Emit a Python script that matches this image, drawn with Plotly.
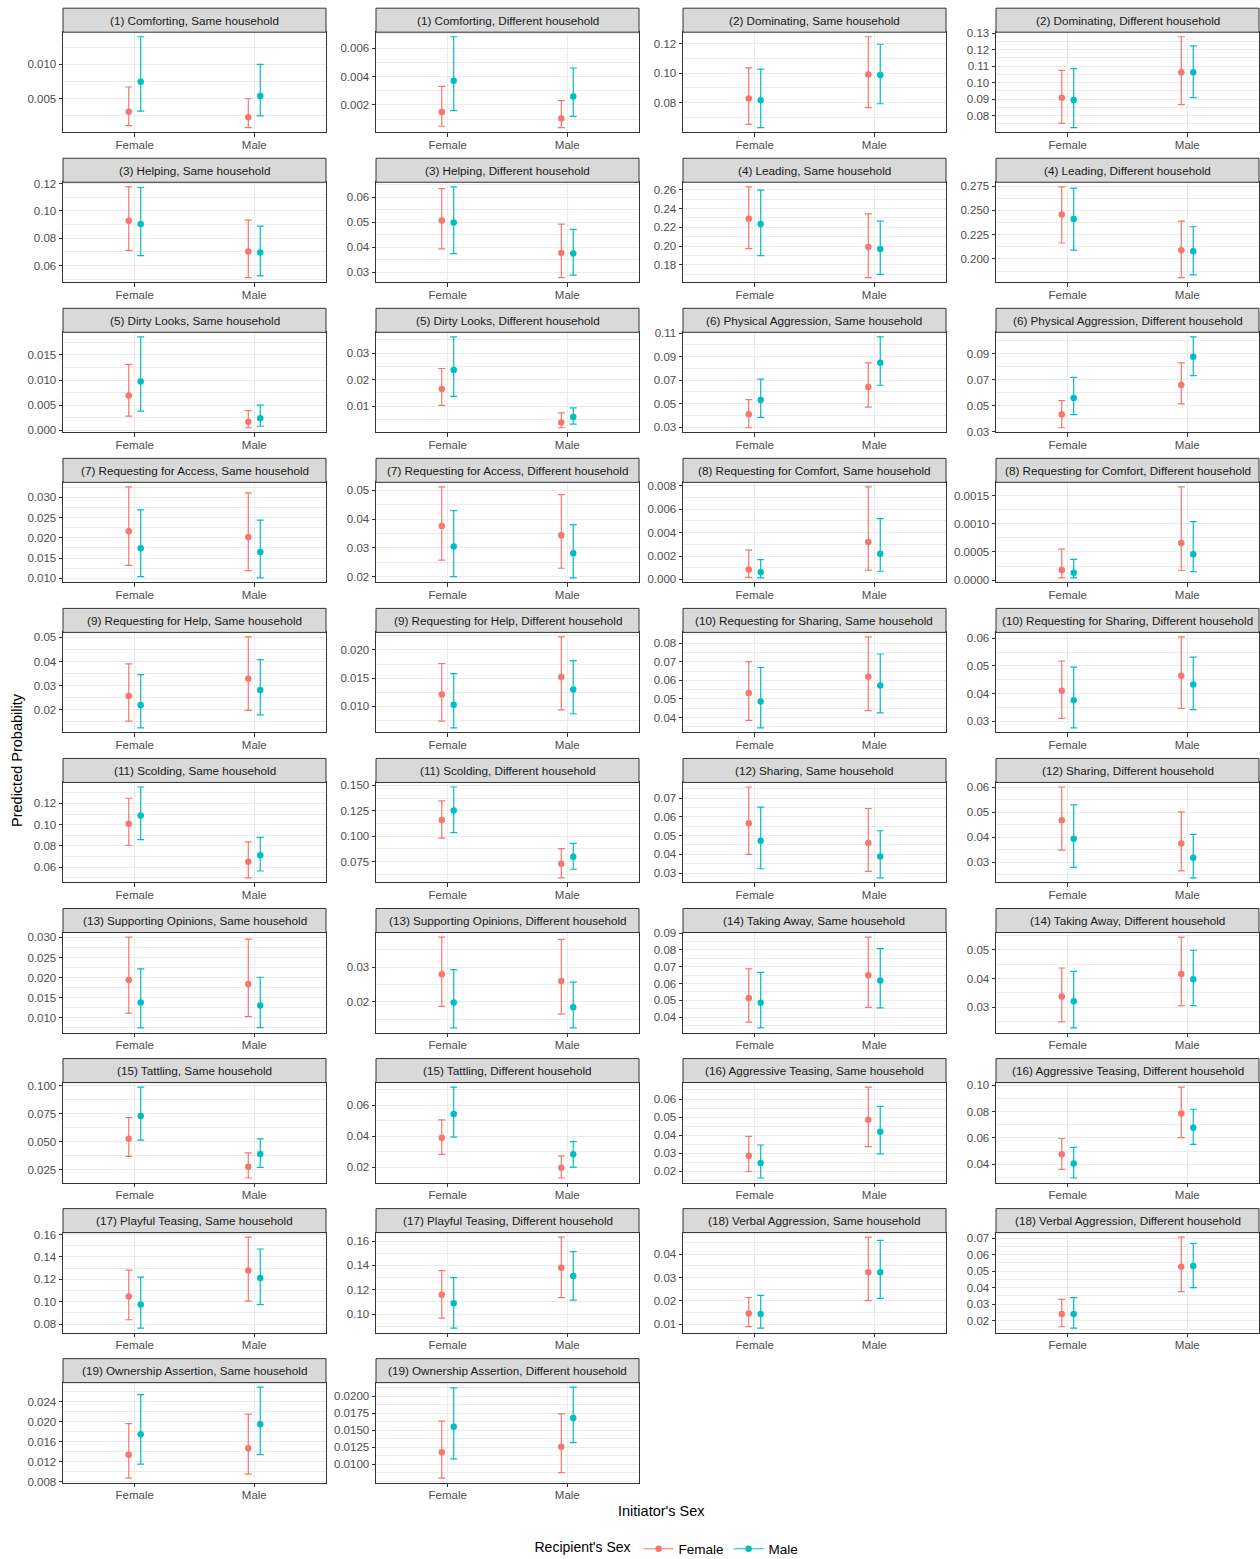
import plotly.graph_objects as go

# ---------------- data ----------------
behaviors = ["Comforting", "Dominating", "Helping", "Leading", "Dirty Looks",
             "Physical Aggression", "Requesting for Access", "Requesting for Comfort",
             "Requesting for Help", "Requesting for Sharing", "Scolding", "Sharing",
             "Supporting Opinions", "Taking Away", "Tattling", "Aggressive Teasing",
             "Playful Teasing", "Verbal Aggression", "Ownership Assertion"]
households = ["Same household", "Different household"]
initiator_sex = ["Female", "Male"]
recipient_sex = ["Female", "Male"]

# one pair per panel: [initiator Female, initiator Male]
est_rec_female = [[0.0031, 0.0023], [0.0015, 0.00105], [0.0829, 0.0991], [0.0908, 0.1062],
                  [0.0928, 0.0704], [0.0507, 0.0378], [0.2291, 0.1989], [0.2459, 0.2090],
                  [0.0069, 0.0017], [0.0165, 0.0039], [0.0410, 0.0641], [0.0431, 0.0659],
                  [0.0216, 0.0202], [0.0376, 0.0344], [0.00085, 0.0032], [0.00018, 0.00066],
                  [0.0256, 0.0328], [0.0121, 0.0152], [0.0532, 0.0620], [0.0410, 0.0465],
                  [0.1009, 0.0650], [0.1160, 0.0731], [0.0566, 0.0460], [0.0467, 0.0374],
                  [0.0194, 0.0184], [0.0280, 0.0260], [0.0515, 0.0649], [0.0338, 0.0416],
                  [0.0526, 0.0276], [0.0390, 0.0198], [0.0285, 0.0485], [0.0475, 0.0785],
                  [0.1047, 0.1278], [0.1160, 0.1381], [0.0145, 0.0322], [0.0241, 0.0527],
                  [0.0134, 0.0147], [0.0118, 0.0126]]
lo_rec_female = [[0.0011, 0.0008], [0.0005, 0.0004], [0.0653, 0.0767], [0.0752, 0.0866],
                 [0.0711, 0.0512], [0.0394, 0.0279], [0.1972, 0.1663], [0.2164, 0.1806],
                 [0.0028, 0.0005], [0.0103, 0.0019], [0.0294, 0.0469], [0.0329, 0.0513],
                 [0.0132, 0.0119], [0.0258, 0.0230], [0.00017, 0.0008], [0.00004, 0.00017],
                 [0.0152, 0.0197], [0.0074, 0.0094], [0.0384, 0.0437], [0.0310, 0.0346],
                 [0.0806, 0.0498], [0.0981, 0.0591], [0.0400, 0.0309], [0.0348, 0.0265],
                 [0.0112, 0.0103], [0.0187, 0.0165], [0.0371, 0.0458], [0.0249, 0.0306],
                 [0.0370, 0.0176], [0.0284, 0.0132], [0.0198, 0.0336], [0.0360, 0.0602],
                 [0.0839, 0.1006], [0.0968, 0.1135], [0.0089, 0.0201], [0.0164, 0.0376],
                 [0.0087, 0.0095], [0.0080, 0.0088]]
hi_rec_female = [[0.0067, 0.0050], [0.0033, 0.0023], [0.1036, 0.1247], [0.1074, 0.1278],
                 [0.1176, 0.0933], [0.0635, 0.0493], [0.2632, 0.2343], [0.2744, 0.2390],
                 [0.0131, 0.0039], [0.0242, 0.0075], [0.0534, 0.0847], [0.0538, 0.0829],
                 [0.0326, 0.0311], [0.0511, 0.0484], [0.0025, 0.0079], [0.00055, 0.00166],
                 [0.0390, 0.0502], [0.0176, 0.0223], [0.0702, 0.0835], [0.0518, 0.0605],
                 [0.1249, 0.0837], [0.1347, 0.0879], [0.0760, 0.0645], [0.0600, 0.0501],
                 [0.0301, 0.0296], [0.0387, 0.0380], [0.0688, 0.0877], [0.0437, 0.0545],
                 [0.0715, 0.0400], [0.0505, 0.0274], [0.0393, 0.0666], [0.0595, 0.0985],
                 [0.1282, 0.1577], [0.1357, 0.1632], [0.0214, 0.0473], [0.0330, 0.0706],
                 [0.0196, 0.0215], [0.01635, 0.0174]]
est_rec_male = [[0.00745, 0.0054], [0.0037, 0.0026], [0.0816, 0.0987], [0.0894, 0.1062],
                [0.0904, 0.0696], [0.0499, 0.0376], [0.2235, 0.1968], [0.2411, 0.2080],
                [0.0097, 0.0024], [0.0236, 0.0059], [0.0531, 0.0847], [0.0559, 0.0877],
                [0.0174, 0.0165], [0.0305, 0.0282], [0.00062, 0.0022], [0.00013, 0.00046],
                [0.0219, 0.0281], [0.0103, 0.0130], [0.0487, 0.0573], [0.0376, 0.0433],
                [0.1087, 0.0712], [0.1253, 0.0798], [0.0472, 0.0389], [0.0393, 0.0317],
                [0.0138, 0.0131], [0.0198, 0.0185], [0.0486, 0.0619], [0.0321, 0.0398],
                [0.0730, 0.0391], [0.0543, 0.0284], [0.0245, 0.0418], [0.0405, 0.0677],
                [0.0976, 0.1211], [0.1089, 0.1314], [0.0143, 0.0322], [0.0241, 0.0531],
                [0.0175, 0.0195], [0.0155, 0.0168]]
lo_rec_male = [[0.0032, 0.0025], [0.0016, 0.0012], [0.0631, 0.0793], [0.0726, 0.0908],
               [0.0673, 0.0526], [0.0375, 0.0289], [0.1898, 0.1698], [0.2091, 0.1836],
               [0.0038, 0.0008], [0.0137, 0.0033], [0.0382, 0.0656], [0.0431, 0.0731],
               [0.0104, 0.0101], [0.0201, 0.0197], [0.00014, 0.0007], [0.00004, 0.00015],
               [0.0124, 0.0178], [0.0062, 0.0087], [0.0344, 0.0425], [0.0276, 0.0342],
               [0.0859, 0.0563], [0.1036, 0.0676], [0.0323, 0.0274], [0.0279, 0.0237],
               [0.0075, 0.0076], [0.0125, 0.0125], [0.0336, 0.0456], [0.0228, 0.0306],
               [0.0515, 0.0271], [0.0394, 0.0202], [0.0162, 0.0296], [0.0295, 0.0550],
               [0.0765, 0.0974], [0.0886, 0.1116], [0.0083, 0.0210], [0.0156, 0.0400],
               [0.0115, 0.0134], [0.0108, 0.0132]]
hi_rec_male = [[0.0140, 0.0100], [0.0068, 0.0046], [0.1027, 0.1196], [0.1084, 0.1222],
               [0.1171, 0.0889], [0.0642, 0.0472], [0.2596, 0.2266], [0.2731, 0.2332],
               [0.0186, 0.0050], [0.0361, 0.0094], [0.0708, 0.1068], [0.0718, 0.1030],
               [0.0269, 0.0244], [0.0429, 0.0381], [0.0017, 0.0052], [0.00037, 0.00104],
               [0.0345, 0.0408], [0.0158, 0.0181], [0.0670, 0.0743], [0.0496, 0.0532],
               [0.1355, 0.0880], [0.1484, 0.0930], [0.0652, 0.0526], [0.0529, 0.0411],
               [0.0222, 0.0201], [0.0293, 0.0257], [0.0667, 0.0808], [0.0425, 0.0499],
               [0.0988, 0.0526], [0.0716, 0.0366], [0.0345, 0.0559], [0.0527, 0.0817],
               [0.1220, 0.1471], [0.1300, 0.1514], [0.0223, 0.0459], [0.0340, 0.0668],
               [0.0254, 0.0269], [0.0212, 0.0213]]

y_tick_labels = [
    ["0.005", "0.010"], ["0.002", "0.004", "0.006"], ["0.08", "0.10", "0.12"],
    ["0.08", "0.09", "0.10", "0.11", "0.12", "0.13"],
    ["0.06", "0.08", "0.10", "0.12"], ["0.03", "0.04", "0.05", "0.06"],
    ["0.18", "0.20", "0.22", "0.24", "0.26"], ["0.200", "0.225", "0.250", "0.275"],
    ["0.000", "0.005", "0.010", "0.015"], ["0.01", "0.02", "0.03"],
    ["0.03", "0.05", "0.07", "0.09", "0.11"], ["0.03", "0.05", "0.07", "0.09"],
    ["0.010", "0.015", "0.020", "0.025", "0.030"], ["0.02", "0.03", "0.04", "0.05"],
    ["0.000", "0.002", "0.004", "0.006", "0.008"], ["0.0000", "0.0005", "0.0010", "0.0015"],
    ["0.02", "0.03", "0.04", "0.05"], ["0.010", "0.015", "0.020"],
    ["0.04", "0.05", "0.06", "0.07", "0.08"], ["0.03", "0.04", "0.05", "0.06"],
    ["0.06", "0.08", "0.10", "0.12"], ["0.075", "0.100", "0.125", "0.150"],
    ["0.03", "0.04", "0.05", "0.06", "0.07"], ["0.03", "0.04", "0.05", "0.06"],
    ["0.010", "0.015", "0.020", "0.025", "0.030"], ["0.02", "0.03"],
    ["0.04", "0.05", "0.06", "0.07", "0.08", "0.09"], ["0.03", "0.04", "0.05"],
    ["0.025", "0.050", "0.075", "0.100"], ["0.02", "0.04", "0.06"],
    ["0.02", "0.03", "0.04", "0.05", "0.06"], ["0.04", "0.06", "0.08", "0.10"],
    ["0.08", "0.10", "0.12", "0.14", "0.16"], ["0.10", "0.12", "0.14", "0.16"],
    ["0.01", "0.02", "0.03", "0.04"], ["0.02", "0.03", "0.04", "0.05", "0.06", "0.07"],
    ["0.008", "0.012", "0.016", "0.020", "0.024"], ["0.0100", "0.0125", "0.0150", "0.0175", "0.0200"],
]

# ---------------- style / layout constants ----------------
W, H = 1260, 1559
COL_LEFT = [63, 376, 683, 996]
PANEL_W = 263
ROW_TOP0 = 8.2
ROW_STEP = 150.05
STRIP_H = 24
PANEL_H = 100
COLORS = {"Female": "#F8766D", "Male": "#00BFC4"}
DODGE = {"Female": -0.05, "Male": 0.05}
FONT = "Liberation Sans, Arial, Helvetica, sans-serif"
GRID = "#EBEBEB"
DARK = "#333333"

series = {
    "Female": (est_rec_female, lo_rec_female, hi_rec_female),
    "Male": (est_rec_male, lo_rec_male, hi_rec_male),
}

titles = [f"({b_i + 1}) {b}, {h}" for b_i, b in enumerate(behaviors) for h in households]

fig = go.Figure()
layout = {}
shapes = []
annotations = []

for i, title in enumerate(titles):
    r, c = divmod(i, 4)
    n = i + 1
    xa = "xaxis" if n == 1 else f"xaxis{n}"
    ya = "yaxis" if n == 1 else f"yaxis{n}"
    xr = "x" if n == 1 else f"x{n}"
    yr = "y" if n == 1 else f"y{n}"

    left = COL_LEFT[c]
    strip_top = ROW_TOP0 + r * ROW_STEP
    panel_top = strip_top + STRIP_H
    panel_bot = panel_top + PANEL_H
    xdom = [left / W, (left + PANEL_W) / W]
    ydom = [1 - panel_bot / H, 1 - panel_top / H]

    all_lo = min(min(lo_rec_female[i]), min(lo_rec_male[i]))
    all_hi = max(max(hi_rec_female[i]), max(hi_rec_male[i]))
    pad = 0.05 * (all_hi - all_lo)
    yrange = [all_lo - pad, all_hi + pad]

    tickvals = [float(t) for t in y_tick_labels[i]]
    step = tickvals[1] - tickvals[0]

    for rec in recipient_sex:
        est, lo, hi = series[rec]
        xs = [k + 1 + DODGE[rec] for k in range(len(initiator_sex))]
        fig.add_trace(go.Scatter(
            x=xs, y=est[i], xaxis=xr, yaxis=yr, mode="markers",
            marker=dict(color=COLORS[rec], size=6.5),
            error_y=dict(type="data", symmetric=False,
                         array=[h - e for h, e in zip(hi[i], est[i])],
                         arrayminus=[e - l for e, l in zip(est[i], lo[i])],
                         color=COLORS[rec], thickness=1.2, width=3.5),
            showlegend=False, hoverinfo="y", name=rec,
        ))

    layout[xa] = dict(
        domain=xdom, anchor=yr, range=[0.4, 2.6],
        tickmode="array", tickvals=[1, 2], ticktext=initiator_sex,
        showgrid=True, gridcolor=GRID, gridwidth=1.3, zeroline=False,
        ticks="outside", ticklen=3.5, tickwidth=1, tickcolor=DARK,
        ticklabelstandoff=-2,
        tickfont=dict(size=11.5, color="#4D4D4D", family=FONT),
        showline=True, mirror=True, linecolor=DARK, linewidth=1,
    )
    layout[ya] = dict(
        domain=ydom, anchor=xr, range=yrange,
        tickmode="array", tickvals=tickvals, ticktext=y_tick_labels[i],
        showgrid=True, gridcolor=GRID, gridwidth=1.3, zeroline=False,
        ticks="outside", ticklen=3.5, tickwidth=1, tickcolor=DARK,
        tickfont=dict(size=11.5, color="#4D4D4D", family=FONT),
        showline=True, mirror=True, linecolor=DARK, linewidth=1,
        minor=dict(tickmode="linear", tick0=tickvals[0], dtick=step / 2,
                   showgrid=True, gridcolor=GRID, gridwidth=0.7, ticks=""),
    )

    shapes.append(dict(type="rect", xref="paper", yref="paper",
                       x0=xdom[0], x1=xdom[1],
                       y0=1 - (strip_top + STRIP_H) / H, y1=1 - strip_top / H,
                       fillcolor="#D9D9D9", line=dict(color=DARK, width=1)))
    annotations.append(dict(text=title, xref="paper", yref="paper",
                            x=(xdom[0] + xdom[1]) / 2, y=1 - (strip_top + STRIP_H / 2) / H,
                            xanchor="center", yanchor="middle", showarrow=False,
                            font=dict(size=11.7, color="#1A1A1A", family=FONT)))

# legend entries
for rec in recipient_sex:
    fig.add_trace(go.Scatter(
        x=[None], y=[None], mode="lines+markers", name=rec,
        marker=dict(color=COLORS[rec], size=6.5),
        line=dict(color=COLORS[rec], width=1.2), showlegend=True,
    ))

annotations.append(dict(text="Predicted Probability", xref="paper", yref="paper",
                        x=17 / W, y=1 - 760 / H, textangle=-90, showarrow=False,
                        xanchor="center", yanchor="middle",
                        font=dict(size=14.5, color="black", family=FONT)))
annotations.append(dict(text="Initiator's Sex", xref="paper", yref="paper",
                        x=661 / W, y=1 - 1511 / H, showarrow=False,
                        xanchor="center", yanchor="middle",
                        font=dict(size=14.5, color="black", family=FONT)))

fig.update_layout(
    width=W, height=H, margin=dict(l=0, r=0, t=0, b=0, autoexpand=False),
    paper_bgcolor="white", plot_bgcolor="white",
    font=dict(family=FONT),
    shapes=shapes, annotations=annotations,
    showlegend=True,
    legend=dict(orientation="h", x=668 / W, xanchor="center",
                y=-0.0035, yanchor="bottom", itemwidth=30,
                title=dict(text="Recipient's Sex", side="left",
                           font=dict(size=14, color="black", family=FONT)),
                font=dict(size=13.5, color="black", family=FONT),
                bgcolor="rgba(0,0,0,0)"),
    **layout,
)

fig.write_html("out.html", config={"displayModeBar": False},
               post_script="document.body.style.margin='0';document.body.style.padding='0';"
                           "document.documentElement.style.overflow='hidden';")
